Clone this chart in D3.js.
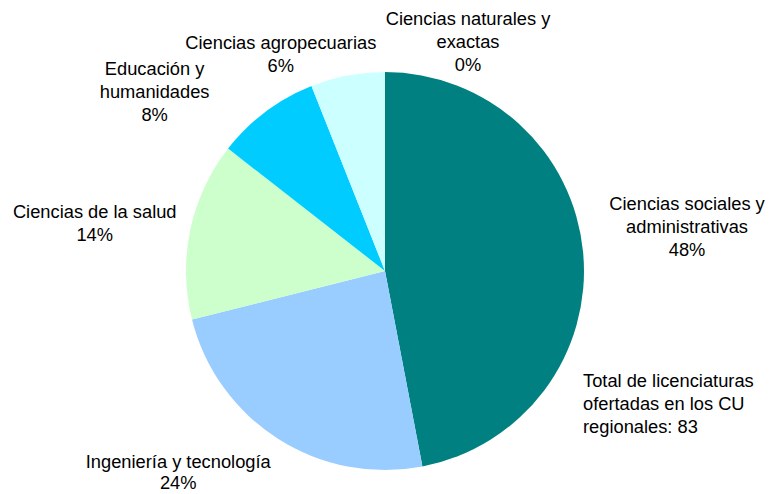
<!DOCTYPE html>
<html>
    <head>
        <meta charset="utf-8">
        <script src="https://cdn.jsdelivr.net/npm/d3@7/dist/d3.min.js"></script>
        <style>
            body { margin: 0; background: #fff; }
            text { font-family: "Liberation Sans", Arial, sans-serif; font-size: 18.3px; fill: #000; }
        </style>
    </head>
    <body>
        <svg width="772" height="494"></svg>
        <script>

        // licenciaturas por area (total 83)
        var areas = [
            ["Ciencias sociales y", "administrativas"],
            ["Ingeniería y tecnología"],
            ["Ciencias de la salud"],
            ["Educación y", "humanidades"],
            ["Ciencias agropecuarias"],
            ["Ciencias naturales y", "exactas"]
        ];
        var counts = [39, 20, 12, 7, 5, 0];
        var pctLabels = ["48%", "24%", "14%", "8%", "6%", "0%"];
        var colors = ["#008080", "#99CCFF", "#CCFFCC", "#00CCFF", "#CCFFFF", "#FFFFFF"];
        var note = ["Total de licenciaturas", "ofertadas en los CU", "regionales: 83"];

        var svg = d3.select("svg"),
            cx = 385, cy = 271, radius = 199,
            lineH = 22.8,
            g = svg.append("g").attr("transform", "translate(" + cx + "," + cy + ")");

        // label nudges from a point just outside each slice
        var nudge = [[84, -40], [-89, 12], [-76, -7.5], [-99, -20.6], [-63, -6.6], [83, -27]];

        var pie = d3.pie().sort(null).value(function(d) { return d; });
        var arc = d3.arc().innerRadius(0).outerRadius(radius);
        var labelArc = d3.arc().innerRadius(radius + 20).outerRadius(radius + 20);

        var arcs = pie(counts);

        g.selectAll("path")
            .data(arcs)
          .enter().append("path")
            .attr("d", arc)
            .attr("fill", function(d, i) { return colors[i]; });

        var labels = g.selectAll("text.lbl")
            .data(arcs)
          .enter().append("text")
            .attr("class", "lbl")
            .attr("text-anchor", "middle")
            .attr("transform", function(d, i) {
                var c = labelArc.centroid(d);
                return "translate(" + (c[0] + nudge[i][0]) + "," + (c[1] + nudge[i][1]) + ")";
            });

        labels.each(function(d, i) {
            var t = d3.select(this);
            var lines = areas[i].concat([pctLabels[i]]);
            var step = lines.length == 2 && i == 1 ? 21.5 : lineH;
            lines.forEach(function(s, k) {
                t.append("tspan").attr("x", 0).attr("y", k * step).text(s);
            });
        });

        var noteText = svg.append("text")
            .attr("transform", "translate(583,387)");
        note.forEach(function(s, k) {
            noteText.append("tspan").attr("x", 0).attr("y", k * lineH).text(s);
        });

        </script>
    </body>
</html>
